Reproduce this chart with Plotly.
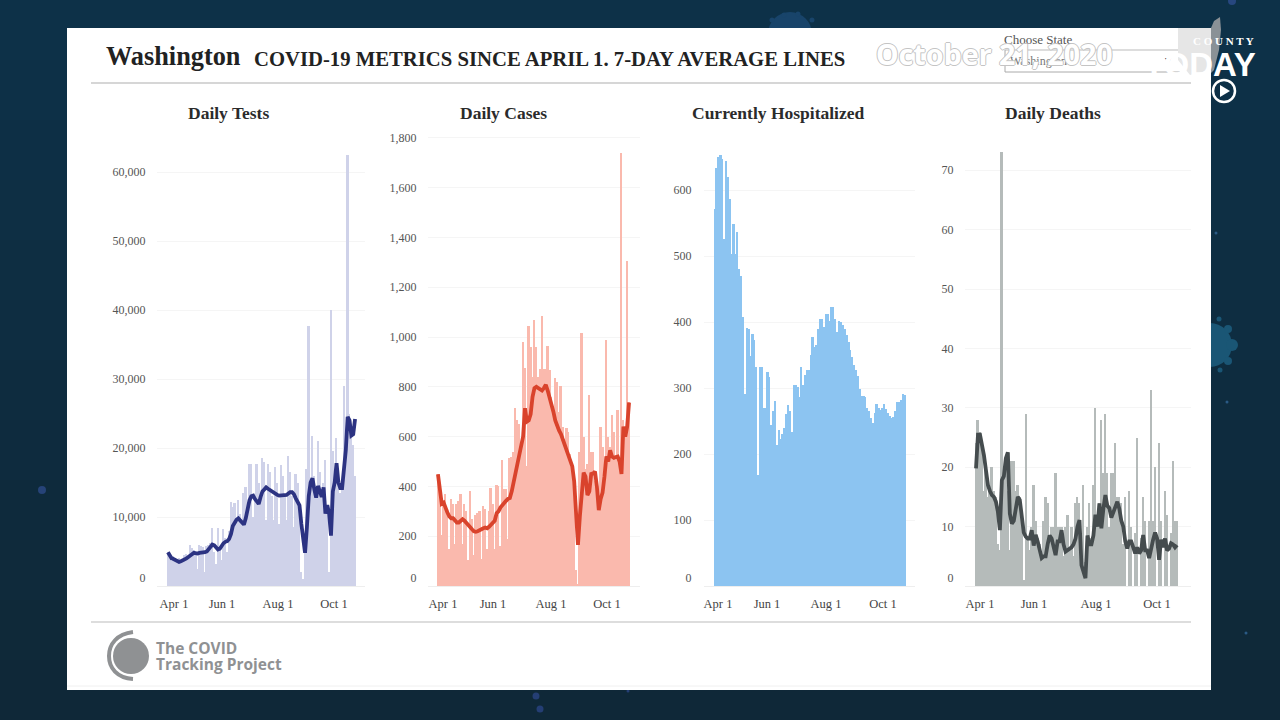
import pandas as pd
import plotly.graph_objects as go

tick_text = ["Apr 1", "Jun 1", "Aug 1", "Oct 1"]
dates = pd.date_range("2020-04-01", periods=102, freq="2D")

tests_bars = [5000,4700,3600,4300,4000,3800,4000,3500,3900,4500,4600,4300,5900,5500,5200,5000,2500,6000,5800,5700,
 2000,5800,6000,6200,8400,5000,3200,8400,5600,3800,8200,7000,5000,8000,12200,11500,12000,9500,12400,10500,
 9000,13500,14300,11000,17700,17700,10000,13000,17700,15000,12000,18500,18000,9500,17700,16500,13000,9500,17300,15000,
 9000,17500,16000,13000,9500,18900,16500,13000,8500,16200,15000,12000,2000,1000,5000,17000,37700,15000,21800,16000,
 13000,21000,16500,13000,15000,18300,11000,2000,40000,19500,15000,21500,15000,13500,14000,29000,20000,62500,25000,21500,
 20500,16000]
tests_line = [4900,4300,4000,3900,3800,3700,3500,3600,3700,3800,4000,4200,4500,4600,4800,4700,4700,4800,4800,4900,
 4900,5000,5300,5800,6000,5900,5500,5300,5400,5900,6200,6400,6500,6800,7500,8700,9300,9600,9800,9500,
 9100,8900,9800,11200,12400,13000,13100,12600,12200,11900,12900,13700,14000,14300,14100,13900,13700,13600,13400,13200,
 13100,13100,13100,13100,13200,13400,13600,13600,13300,12700,12200,11700,9000,6200,4800,8500,13000,15000,15600,14000,
 12800,14500,13500,12900,14300,10500,11700,10500,7300,13700,15000,17800,15000,14200,14200,16500,19700,24500,24000,21800,
 22000,24200]
cases_bars = [449,400,205,330,370,300,150,350,330,170,330,340,370,170,330,300,105,380,270,125,
 285,295,300,110,320,310,150,300,393,330,150,405,400,160,507,390,390,190,513,520,
 540,714,667,650,570,980,875,480,1043,960,840,1070,960,840,870,1083,870,870,962,868,
 760,720,835,820,700,802,640,590,634,620,530,470,400,65,10,540,1016,600,470,490,
 768,540,540,420,400,330,640,560,470,989,600,560,688,620,520,708,460,1738,667,620,
 1304,740]
cases_line = [449,400,330,335,310,295,280,272,272,265,255,255,262,268,262,252,245,238,228,220,
 218,220,225,230,232,235,232,238,245,255,262,292,300,315,326,335,342,350,353,380,
 420,450,500,540,565,600,714,660,665,690,760,795,800,795,790,785,795,808,785,760,
 735,700,665,640,625,610,590,565,550,525,500,480,420,310,165,280,385,455,440,365,
 380,450,452,460,400,305,350,375,440,520,500,545,520,515,518,520,500,450,640,600,
 640,737]
hosp_bars = [571,634,650,653,647,526,644,619,586,503,549,503,536,480,470,407,291,391,390,349,
 382,372,332,168,332,332,269,269,324,317,244,265,281,213,236,223,230,240,260,274,
 265,233,304,304,302,286,332,304,320,328,327,350,377,362,365,390,405,405,392,412,
 412,402,423,423,405,385,402,400,395,390,380,370,358,347,335,328,318,298,288,288,
 286,270,265,255,247,262,276,270,266,270,276,268,262,258,254,256,265,279,279,282,
 291,289]
deaths_bars = [24,28,26,23,16,20,15,17,20,16,15,7,6,73,18,21,16,6,21,21,
 16,17,15,11,1,29,8,6,10,17,11,8,7,5,11,15,14,8,10,10,
 19,10,10,10,5,10,12,6,10,5,14,15,14,9,17,4,10,14,8,17,
 30,12,14,28,19,29,19,10,19,19,24,15,15,14,7,15,0,16,10,0,
 9,25,0,8,15,11,0,11,33,11,20,0,24,11,0,16,12,0,9,21,
 11,11]
deaths_line = [19.8,25.5,25.5,24,22,19.5,17,16,15.3,15,14.2,12.5,9.4,17.8,18.5,21.5,22.5,12.2,10.5,11,
 13.5,15,14.5,11.4,9,8.3,8,8,9.4,6.8,8.6,7.5,6,4.7,5,5,7,8.5,8,6.5,
 5.2,7.5,7.5,9.4,7,5.8,6,6.2,6.5,7,8,10,11.1,3.5,2.5,1.3,8.5,7,7,8.5,
 12,10,13.9,9.7,13,15.3,13.5,13.1,11.5,12.5,13,14.2,13,11,10,7.5,6.3,7.5,7.5,6.5,
 5.5,6.5,5.5,6,8.6,6,6,4.7,6.5,7.8,9,8,4.4,7.8,6.5,8,6,6.3,7.2,7,
 6.5,6.9]

W, H = 1280, 720
BASE = 586
TOP = 130
FONT = "Liberation Serif"


def px(x):
    return x / W


def py(y):
    return 1 - y / H


panels = [
    dict(title="Daily Tests", title_x=228, bars=tests_bars, line=tests_line, bar_color="#cfd2e9", line_color="#2c3382",
         dom=(157, 365), bar_px=(167, 356), label_px=[174, 222, 278, 334], ppu=69 / 10000, standoff=8,
         yticks=[0, 10000, 20000, 30000, 40000, 50000, 60000]),
    dict(title="Daily Cases", title_x=503, bars=cases_bars, line=cases_line, bar_color="#fab9ad", line_color="#d9432c",
         dom=(428, 640), bar_px=(437, 630), label_px=[443, 493, 551, 607], ppu=249 / 1000, standoff=8,
         yticks=[0, 200, 400, 600, 800, 1000, 1200, 1400, 1600, 1800]),
    dict(title="Currently Hospitalized", title_x=778, bars=hosp_bars, line=None, bar_color="#8cc4f1", line_color=None,
         dom=(704, 915), bar_px=(714, 906), label_px=[718, 767, 826, 883], ppu=66 / 100, standoff=9,
         yticks=[0, 100, 200, 300, 400, 500, 600]),
    dict(title="Daily Deaths", title_x=1053, bars=deaths_bars, line=deaths_line, bar_color="#b5bbba", line_color="#454c4e",
         dom=(965, 1191), bar_px=(975, 1178), label_px=[980, 1034, 1096, 1157], ppu=59.4 / 10, standoff=8,
         yticks=[0, 10, 20, 30, 40, 50, 60, 70]),
]

fig = go.Figure()
layout = dict(
    width=W, height=H, margin=dict(l=0, r=0, t=0, b=0, pad=0, autoexpand=False), autosize=False,
    paper_bgcolor="#0e2c3f", plot_bgcolor="rgba(0,0,0,0)", showlegend=False, bargap=0, hovermode=False,
    font=dict(family=FONT, color="#555555", size=12),
)

for n, p in enumerate(panels, start=1):
    ax = "" if n == 1 else str(n)
    assert len(p["bars"]) == len(dates)
    fig.add_trace(go.Bar(x=dates, y=p["bars"], marker=dict(color=p["bar_color"], line_width=0),
                         xaxis=f"x{ax}", yaxis=f"y{ax}"))
    if p["line"]:
        assert len(p["line"]) == len(dates)
        fig.add_trace(go.Scatter(x=dates, y=p["line"], mode="lines",
                                 line=dict(color=p["line_color"], width=3.8), xaxis=f"x{ax}", yaxis=f"y{ax}"))
    day_px = (p["bar_px"][1] - p["bar_px"][0]) / 204
    t0 = dates[0] - pd.Timedelta(days=1)
    at = lambda x: t0 + pd.Timedelta(days=(x - p["bar_px"][0]) / day_px)
    layout[f"xaxis{ax}"] = dict(
        domain=[px(p["dom"][0]), px(p["dom"][1])], type="date",
        range=[at(p["dom"][0]), at(p["dom"][1])], tickmode="array",
        tickvals=[at(x) for x in p["label_px"]], ticktext=tick_text, showgrid=False, zeroline=False,
        showline=True, linecolor="#eeeeee", linewidth=1, ticks="outside", ticklen=6, tickcolor="rgba(0,0,0,0)",
        tickfont=dict(family=FONT, size=12.5, color="#444444"), anchor=f"y{ax}", fixedrange=True,
    )
    layout[f"yaxis{ax}"] = dict(
        domain=[py(BASE), py(TOP)], range=[0, (BASE - TOP) / p["ppu"]], tickmode="array",
        tickvals=p["yticks"], ticktext=["0<br> " if v == 0 else f"{v:,}" for v in p["yticks"]],
        showgrid=True, gridcolor="#f5f5f5", gridwidth=1, zeroline=False, showline=False,
        ticks="outside", ticklen=p["standoff"], tickcolor="rgba(0,0,0,0)",
        tickfont=dict(family=FONT, size=12, color="#555555"), anchor=f"x{ax}", fixedrange=True,
    )

GREY = "#8f9193"


def poly(points):
    return "M " + " L ".join(f"{px(x)} {py(y)}" for x, y in points) + " Z"


def dot(x, y, r, color):
    return dict(type="circle", x0=px(x - r), x1=px(x + r), y0=py(y + r), y1=py(y - r), fillcolor=color, line_width=0)


# backdrop: soft vertical shading in bands
band_top = (13, 49, 72)
band_bot = (15, 40, 56)
bands = []
for i in range(12):
    t = i / 11
    c = tuple(round(a + (b - a) * t) for a, b in zip(band_top, band_bot))
    bands.append(dict(type="rect", x0=0, x1=1, y0=py(60 * (i + 1)), y1=py(60 * i),
                      fillcolor=f"rgb{c}", line_width=0))

shapes = bands + [
    dot(790, 34, 22, "#18446a"), dot(772, 20, 2.5, "#18446a"), dot(784, 15, 2.5, "#18446a"),
    dot(798, 14, 2.5, "#18446a"), dot(812, 20, 2.5, "#18446a"),
    dot(1210, 345, 22, "#1a5675"), dot(1232, 345, 6, "#1a5675"), dot(1228, 329, 4, "#1a5675"),
    dot(1228, 361, 4, "#1a5675"), dot(1219, 319, 2.5, "#1a5675"), dot(1220, 370, 2.5, "#1a5675"),
    dot(42, 490, 4, "#264378"), dot(1246, 633, 1.5, "#2a5a85"), dot(1216, 233, 1.5, "#2a5a85"),
    dot(1227, 402, 1.5, "#2a5a85"), dot(536, 696, 3.5, "#243e74"), dot(540, 709, 3.5, "#243e74"),
    dot(628, 691, 1.5, "#243e74"), dot(1232, 1, 4, "#27477f"),
    dict(type="rect", x0=px(67), x1=px(1211), y0=py(690), y1=py(28), fillcolor="#ffffff", line_width=0),
    dict(type="line", x0=px(91), x1=px(1191), y0=py(83), y1=py(83), line=dict(color="#c8c8c8", width=1.5)),
    dict(type="line", x0=px(91), x1=px(1191), y0=py(622), y1=py(622), line=dict(color="#dddddd", width=2)),
    dict(type="line", x0=px(67), x1=px(1211), y0=py(686), y1=py(686), line=dict(color="#f0f0f0", width=1)),
    # state picker
    dict(type="line", x0=px(1005), x1=px(1180), y0=py(50), y1=py(50), line=dict(color="#bbbbbb", width=1)),
    dict(type="line", x0=px(1005), x1=px(1180), y0=py(72), y1=py(72), line=dict(color="#aaaaaa", width=1)),
    dict(type="line", x0=px(1005), x1=px(1005), y0=py(50), y1=py(72), line=dict(color="#aaaaaa", width=1)),
    # faint state silhouette behind the station logo
    dict(type="path", path=poly([(1178, 28), (1211, 28), (1211, 70), (1190, 75), (1178, 60)]),
         fillcolor="#e6e6e6", line_width=0),
    dict(type="path", path=poly([(1211, 28), (1214, 21), (1220, 17), (1221, 30), (1219, 50), (1214, 70), (1211, 73)]),
         fillcolor="#8a9196", line_width=0),
    # tracking project logo
    dict(type="circle", x0=px(113), x1=px(149), y0=py(674), y1=py(638), fillcolor=GREY, line_width=0),
    dict(type="path",
         path=f"M {px(133)} {py(632)} C {px(117)} {py(634)} {px(109)} {py(644)} {px(109)} {py(656)} "
              f"C {px(109)} {py(668)} {px(117)} {py(678)} {px(133)} {py(679)}",
         line=dict(color=GREY, width=4), fillcolor="rgba(0,0,0,0)"),
    # play button
    dict(type="circle", x0=px(1213), x1=px(1235), y0=py(102), y1=py(80), line=dict(color="#ffffff", width=2.5),
         fillcolor="rgba(0,0,0,0)", layer="above"),
    dict(type="path", path=poly([(1220, 85), (1230, 91), (1220, 97)]), fillcolor="#ffffff", line_width=0, layer="above"),
]
for s in shapes:
    s.setdefault("layer", "below")
    s.update(xref="paper", yref="paper")
layout["shapes"] = shapes


def label(text, x, y, size, color="#222222", bold=False, anchor="center", family=FONT, **extra):
    font = dict(family=family, size=size, color=color, **extra)
    if bold:
        font["weight"] = "bold"
    return dict(text=text, x=px(x), y=py(y), xref="paper", yref="paper", xanchor=anchor, yanchor="middle",
                showarrow=False, font=font, borderpad=0, borderwidth=0)


annotations = [
    label("Washington", 106, 57, 26.3, bold=True, anchor="left"),
    label("COVID-19 METRICS SINCE APRIL 1. 7-DAY AVERAGE LINES", 254, 59, 20.7, bold=True, anchor="left"),
    label("Choose State", 1004, 39, 13, color="#555555", anchor="left"),
    label("Washington", 1010, 61, 12, color="#777777", anchor="left"),
    label("▾", 1168, 60, 12, color="#333333"),
    label("The COVID", 156, 648, 15.5, color=GREY, bold=True, anchor="left", family="Open Sans"),
    label("Tracking Project", 156, 664, 15.5, color=GREY, bold=True, anchor="left", family="Open Sans"),
    label("October 21, 2020", 876, 54, 28.6, color="#ffffff", bold=True, anchor="left", family="Noto Sans",
          shadow="1px 0 0 #c4c4c4,-1px 0 0 #c4c4c4,0 1px 0 #c4c4c4,0 -1px 0 #c4c4c4"),
    label("C O U N T Y", 1193, 41, 11, color="#ffffff", bold=True, anchor="left"),
    label("TODAY", 1256, 64, 33, color="#ffffff", bold=True, anchor="right", family="Liberation Sans"),
]
for p in panels:
    annotations.append(label(p["title"], p["title_x"], 113, 17.5, color="#2b2b2b", bold=True))
layout["annotations"] = annotations

fig.update_layout(**layout)
fig.write_html("out.html", config={"displayModeBar": False},
               post_script="document.body.style.margin='0';document.body.style.overflow='hidden';")
